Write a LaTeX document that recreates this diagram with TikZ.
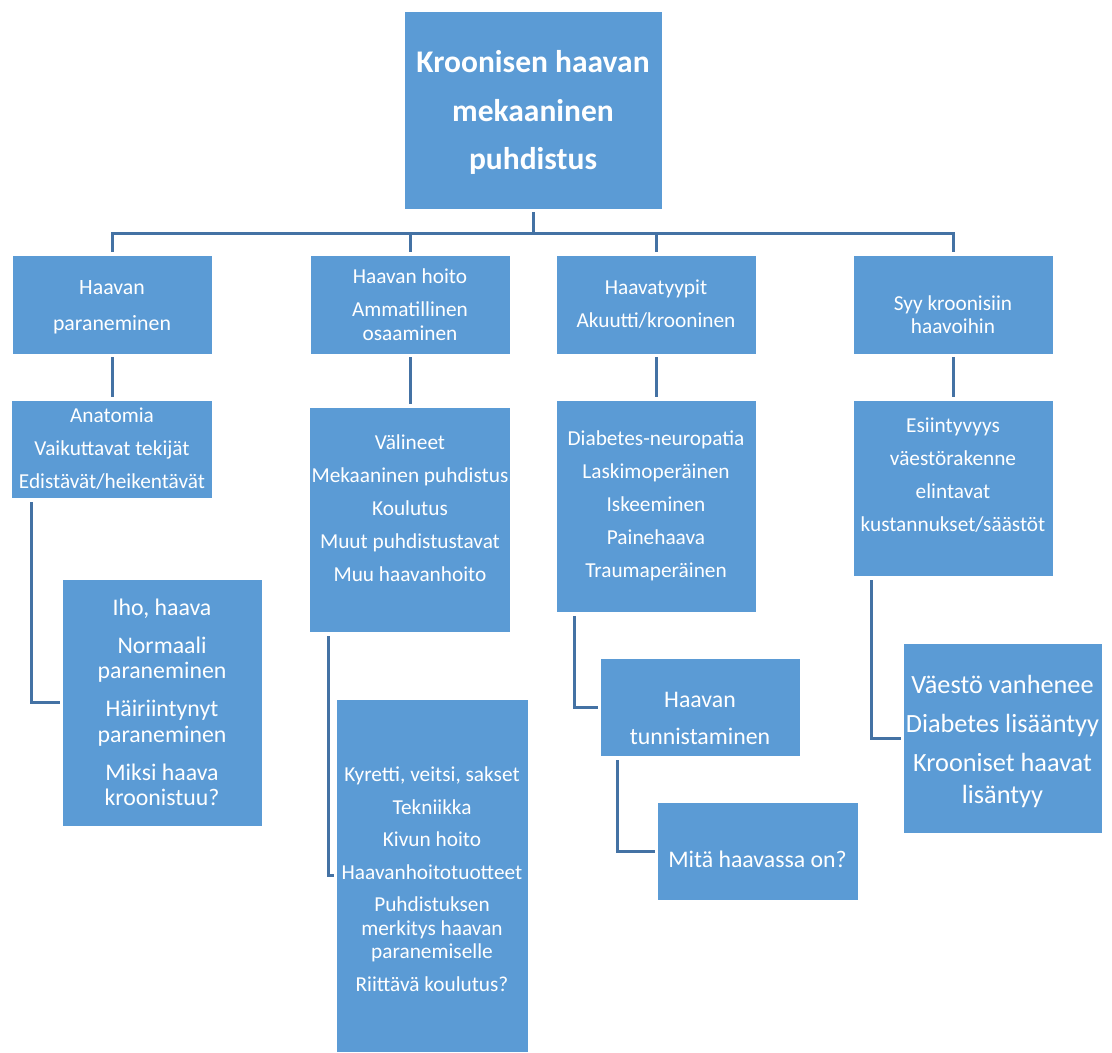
\documentclass[tikz,border=0pt]{standalone}
\usepackage{fontspec}
\setmainfont{Carlito}
\usetikzlibrary{positioning}
\definecolor{boxblue}{HTML}{5B9BD5}
\definecolor{linkblue}{HTML}{4472A4}
\tikzstyle{box} = [rectangle, draw=white, line width=0.8pt, fill=boxblue,
    text=white, align=center, inner sep=2pt]
\tikzstyle{txt} = [font=\fontsize{21.3}{23.5}\selectfont]
\tikzstyle{txtbig} = [font=\fontsize{23.8}{25.5}\selectfont]
\tikzstyle{txthuge} = [font=\fontsize{26.3}{32}\selectfont]
\tikzstyle{line} = [draw=linkblue, line width=3pt]
% invisible struts to push text down / up in a box
\newcommand{\dropstrut}[1]{\rule{0pt}{#1}}
\newcommand{\liftstrut}[1]{\rule[-#1]{0pt}{#1}}

\begin{document}
\begin{tikzpicture}[x=1pt, y=-1pt]
    \useasboundingbox (0,0) rectangle (1112,1053);
    % Place nodes
    \node [box, minimum width=258pt, minimum height=198pt,
        font=\fontsize{31.5}{48.5}\selectfont\bfseries] (root) at (533,110)
        {\dropstrut{27pt}Kroonisen haavan\\mekaaninen\\puhdistus};
    \node [box, font=\fontsize{21.8}{23.5}\selectfont, minimum width=200pt, minimum height=99pt] (paran) at (112,304.5)
        {\dropstrut{20pt}Haavan\\[12.5pt]paraneminen};
    \node [box, txt, minimum width=200pt, minimum height=99pt] (hoito) at (410,304.5)
        {Haavan hoito\\[9.5pt]Ammatillinen\\osaaminen};
    \node [box, txt, minimum width=200pt, minimum height=99pt] (tyypit) at (656,304.5)
        {Haavatyypit\\[9.5pt]Akuutti/krooninen};
    \node [box, txt, minimum width=200pt, minimum height=99pt] (syy) at (953,304.5)
        {\dropstrut{35pt}Syy kroonisiin\\haavoihin};
    \node [box, txt, minimum width=201pt, minimum height=98pt] (paranA) at (112,449)
        {Anatomia\\[9.5pt]Vaikuttavat tekijät\\[9.5pt]Edistävät/heikentävät};
    \node [box, txtbig, minimum width=200pt, minimum height=247pt] (paranB) at (162,702.5)
        {Iho, haava\\[12.5pt]Normaali\\paraneminen\\[12.5pt]Häiriintynyt\\paraneminen\\[12.5pt]Miksi haava\\kroonistuu?};
    \node [box, txt, minimum width=200pt, minimum height=225pt] (hoitoA) at (410,519.5)
        {Välineet\\[9.5pt]Mekaaninen puhdistus\\[9.5pt]Koulutus\\[9.5pt]Muut puhdistustavat\\[9.5pt]Muu haavanhoito\liftstrut{22pt}};
    \node [box, txt, minimum width=192pt, minimum height=353pt] (hoitoB) at (432,875.5)
        {\dropstrut{22pt}Kyretti, veitsi, sakset\\[9pt]Tekniikka\\[9pt]Kivun hoito\\[9pt]Haavanhoitotuotteet\\[9pt]Puhdistuksen\\merkitys haavan\\paranemiselle\\[9pt]Riittävä koulutus?};
    \node [box, txt, minimum width=200pt, minimum height=212pt] (tyypitA) at (656,506)
        {Diabetes-neuropatia\\[9.5pt]Laskimoperäinen\\[9.5pt]Iskeeminen\\[9.5pt]Painehaava\\[9.5pt]Traumaperäinen};
    \node [box, txtbig, minimum width=200pt, minimum height=98pt] (tyypitB) at (700,707)
        {\dropstrut{38pt}Haavan\\[11.5pt]tunnistaminen};
    \node [box, txtbig, minimum width=201pt, minimum height=98pt] (tyypitC) at (757.5,851)
        {\dropstrut{34pt}Mitä haavassa on?};
    \node [box, txt, minimum width=200pt, minimum height=176pt] (syyA) at (953,488)
        {Esiintyvyys\\[9.5pt]väestörakenne\\[9.5pt]elintavat\\[9.5pt]kustannukset/säästöt\liftstrut{26pt}};
    \node [box, txthuge, minimum width=199pt, minimum height=190pt] (syyB) at (1002.5,738)
        {\dropstrut{25pt}Väestö vanhenee\\[7pt]Diabetes lisääntyy\\[7pt]Krooniset haavat\\lisäntyy};
    % Draw edges
    \coordinate (bus) at (533,233);
    \path [line] ([yshift=-3pt]root.south) -- (bus);
    \path [line] (bus) -| ([yshift=3pt]paran.north);
    \path [line] (bus) -| ([yshift=3pt]hoito.north);
    \path [line] (bus) -| ([yshift=3pt]tyypit.north);
    \path [line] (bus) -| ([yshift=3pt]syy.north);
    \path [line] ([yshift=-3pt]paran.south) -- ([yshift=3pt]paranA.north);
    \path [line] ([yshift=-3pt]hoito.south) -- ([yshift=3pt]hoitoA.north);
    \path [line] ([yshift=-3pt]tyypit.south) -- ([yshift=3pt]tyypitA.north);
    \path [line] ([yshift=-3pt]syy.south) -- ([yshift=3pt]syyA.north);
    \path [line] ([xshift=20pt,yshift=-4pt]paranA.south west) |- ([xshift=-2pt]paranB.west);
    \path [line] ([xshift=19pt,yshift=-4pt]hoitoA.south west) |- ([xshift=-2pt]hoitoB.west);
    \path [line] ([xshift=19pt,yshift=-4pt]tyypitA.south west) |- ([xshift=-2pt]tyypitB.west);
    \path [line] ([xshift=18pt,yshift=-4pt]tyypitB.south west) |- ([xshift=-2pt]tyypitC.west);
    \path [line] ([xshift=19pt,yshift=-4pt]syyA.south west) |- ([xshift=-2pt]syyB.west);
\end{tikzpicture}
\end{document}
